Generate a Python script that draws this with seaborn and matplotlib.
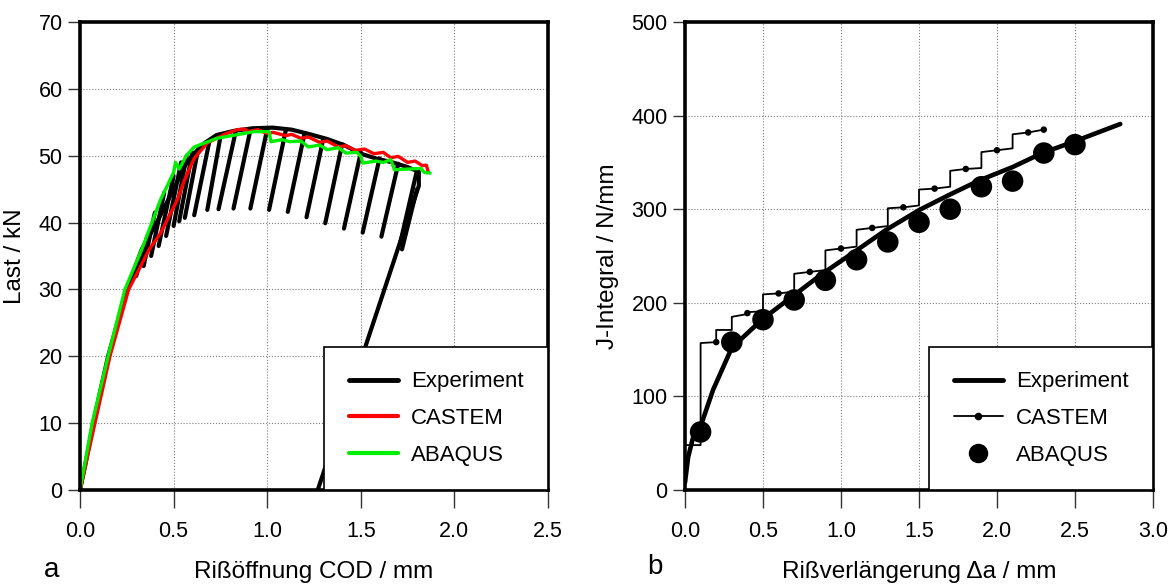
import pandas as pd
import matplotlib
matplotlib.use("Agg")
import matplotlib.pyplot as plt
from matplotlib.lines import Line2D
import seaborn as sns

# ---- panel a: load vs. crack opening ----
exp_cod = [0.0, 0.03, 0.07, 0.15, 0.25, 0.33, 0.41, 0.50, 0.56, 0.60, 0.66, 0.73, 0.82, 0.92,
           1.03, 1.13, 1.23, 1.32, 1.41, 1.50, 1.58, 1.67, 1.75, 1.81, 1.81, 1.27]
exp_load = [0.0, 4.0, 10.0, 20.0, 30.0, 36.0, 40.0, 45.0, 48.5, 50.0, 51.8, 53.1, 53.7, 54.1,
            54.2, 53.9, 53.2, 52.5, 51.6, 50.3, 49.6, 49.0, 48.3, 47.6, 45.5, 0.0]

# partial unloading lines: top point on envelope -> lowest point
unl_top_cod = [0.36, 0.40, 0.45, 0.50, 0.54, 0.57, 0.60, 0.63, 0.69, 0.75, 0.83, 0.91, 1.00,
               1.10, 1.20, 1.30, 1.40, 1.50, 1.60, 1.70, 1.80, 1.80]
unl_top_load = [38.0, 41.5, 44.5, 47.0, 49.0, 50.0, 50.5, 50.8, 52.0, 52.8, 53.4, 53.8, 54.0,
                53.9, 53.4, 52.6, 51.7, 50.5, 49.6, 48.8, 47.8, 45.0]
unl_bot_cod = [0.30, 0.34, 0.38, 0.42, 0.46, 0.50, 0.53, 0.56, 0.61, 0.68, 0.74, 0.82, 0.91,
               1.01, 1.11, 1.21, 1.31, 1.41, 1.51, 1.61, 1.71, 1.72]
unl_bot_load = [32.0, 33.5, 35.0, 36.5, 38.0, 39.5, 40.2, 40.7, 41.1, 41.9, 42.0, 42.1, 42.1,
                41.9, 41.6, 40.8, 39.9, 39.1, 38.5, 37.9, 36.9, 36.0]

castem_cod = [0.0, 0.08, 0.16, 0.26, 0.37, 0.43, 0.52, 0.56, 0.61, 0.68, 0.78, 0.84, 0.88, 0.90,
              0.95, 1.00, 1.03, 1.10, 1.13, 1.18, 1.22, 1.28, 1.32, 1.38, 1.42, 1.47, 1.52, 1.57,
              1.62, 1.66, 1.70, 1.75, 1.79, 1.83, 1.85, 1.86]
castem_load = [0.0, 10.0, 20.0, 30.0, 36.0, 38.4, 43.4, 46.5, 49.6, 51.9, 53.3, 53.9, 54.0, 53.6,
               53.9, 53.3, 53.5, 53.0, 53.2, 52.6, 52.8, 52.0, 52.2, 51.3, 51.5, 50.8, 51.0, 50.3,
               50.5, 49.7, 49.9, 49.0, 49.2, 48.5, 48.6, 47.6]

abaqus_cod = [0.0, 0.065, 0.15, 0.24, 0.33, 0.43, 0.50, 0.51, 0.53, 0.57, 0.61, 0.73, 0.85, 0.93,
              1.01, 1.02, 1.08, 1.12, 1.18, 1.22, 1.28, 1.32, 1.38, 1.42, 1.48, 1.50, 1.51, 1.58,
              1.62, 1.66, 1.68, 1.75, 1.82, 1.84, 1.87]
abaqus_load = [0.0, 10.0, 20.0, 30.0, 36.0, 43.4, 47.5, 49.0, 48.0, 50.1, 51.3, 52.6, 53.2, 53.6,
               53.6, 52.1, 52.4, 52.1, 52.2, 51.3, 51.6, 50.9, 51.2, 50.4, 50.5, 49.9, 48.9, 49.2,
               49.0, 49.4, 47.9, 48.0, 48.1, 47.5, 47.4]

# ---- panel b: J-integral vs. crack extension ----
jexp_da = [0.0, 0.02, 0.05, 0.10, 0.18, 0.30, 0.50, 0.69, 0.88, 1.10, 1.29, 1.50, 1.69, 1.89,
           2.10, 2.29, 2.49, 2.79]
jexp_j = [8, 35, 55, 68, 107, 152, 183, 207, 231, 256, 278, 299, 315, 331, 345, 360, 372, 391]

jcast_da = [0.0, 0.1, 0.1, 0.2, 0.2, 0.3, 0.3, 0.4, 0.4, 0.5, 0.5, 0.6, 0.7, 0.7, 0.8, 0.9, 0.9,
            1.0, 1.1, 1.1, 1.2, 1.3, 1.3, 1.4, 1.5, 1.5, 1.6, 1.7, 1.7, 1.8, 1.9, 1.9, 2.0, 2.1,
            2.1, 2.2, 2.3]
jcast_j = [48, 48, 157, 158, 171, 171, 185, 188, 190, 191, 209, 210, 212, 231, 233, 235, 256,
           258, 260, 278, 280, 282, 301, 302, 304, 321, 322, 324, 341, 343, 344, 361, 363, 365,
           380, 382, 385]
jcast_dot_da = [0.2, 0.4, 0.6, 0.8, 1.0, 1.2, 1.4, 1.6, 1.8, 2.0, 2.2, 2.3]
jcast_dot_j = [158, 189, 210, 233, 258, 280, 302, 322, 343, 363, 382, 385]

jaba_da = [0.1, 0.3, 0.5, 0.7, 0.9, 1.1, 1.3, 1.5, 1.7, 1.9, 2.1, 2.3, 2.5]
jaba_j = [62, 158, 182, 203, 224, 246, 265, 286, 300, 324, 330, 360, 369]

sns.set_theme(style="white")
plt.rcParams["font.family"] = ["Liberation Sans Narrow", "Liberation Sans", "DejaVu Sans"]
plt.rcParams["axes.edgecolor"] = "black"
plt.rcParams["text.color"] = "black"
plt.rcParams["axes.labelcolor"] = "black"

fig = plt.figure(figsize=(11.75, 5.87), dpi=100)
ax1 = fig.add_axes([80 / 1175, 97 / 587, 468 / 1175, 468 / 587])
ax2 = fig.add_axes([685 / 1175, 97 / 587, 468 / 1175, 468 / 587])


def style_axes(ax):
    for sp in ax.spines.values():
        sp.set_linewidth(2.6)
        sp.set_color("black")
    ax.grid(True, linestyle=":", color="#808080", linewidth=0.8)
    ax.tick_params(axis="x", direction="out", length=13, width=1.0, color="#333333",
                   labelcolor="black", labelsize=15.5, pad=9, bottom=True)
    ax.tick_params(axis="y", direction="out", length=8.5, width=1.0, color="#333333",
                   labelcolor="black", labelsize=15.5, pad=4, left=True)


def style_legend(leg):
    leg.get_frame().set_edgecolor("black")
    leg.get_frame().set_linewidth(1.2)
    leg.get_frame().set_alpha(1)


# panel a
seg_rows = []
for i in range(len(unl_top_cod)):
    seg_rows.append({"seg": i, "cod": unl_top_cod[i], "load": unl_top_load[i]})
    seg_rows.append({"seg": i, "cod": unl_bot_cod[i], "load": unl_bot_load[i]})
seg_df = pd.DataFrame(seg_rows)

sns.lineplot(data=seg_df, x="cod", y="load", units="seg", estimator=None, sort=False,
             color="black", linewidth=3.0, ax=ax1)
sns.lineplot(x=exp_cod, y=exp_load, sort=False, estimator=None, color="black",
             linewidth=3.0, ax=ax1)
sns.lineplot(x=castem_cod, y=castem_load, sort=False, estimator=None, color="#ff0000",
             linewidth=2.4, ax=ax1)
sns.lineplot(x=abaqus_cod, y=abaqus_load, sort=False, estimator=None, color="#00ee00",
             linewidth=2.4, ax=ax1)

ax1.set_xlim(0, 2.5)
ax1.set_ylim(0, 70)
ax1.set_xticks([0.0, 0.5, 1.0, 1.5, 2.0, 2.5])
ax1.set_xticklabels(["0.0", "0.5", "1.0", "1.5", "2.0", "2.5"])
ax1.set_yticks(range(0, 71, 10))
style_axes(ax1)
ax1.set_xlabel("Rißöffnung COD / mm", fontsize=17.5, labelpad=14)
ax1.set_ylabel("Last / kN", fontsize=17.5, labelpad=9)

h1 = [Line2D([], [], color="black", lw=3.5),
      Line2D([], [], color="#ff0000", lw=3.0),
      Line2D([], [], color="#00ee00", lw=3.0)]
leg1 = ax1.legend(h1, ["Experiment", "CASTEM", "ABAQUS"], loc="lower right", fontsize=16,
                  frameon=True, fancybox=False, borderaxespad=0, handlelength=2.2,
                  borderpad=1.1, labelspacing=0.7, handletextpad=0.6)
style_legend(leg1)

# panel b
sns.lineplot(x=jexp_da, y=jexp_j, sort=False, estimator=None, color="black",
             linewidth=3.3, ax=ax2)
sns.lineplot(x=jcast_da, y=jcast_j, sort=False, estimator=None, color="black",
             linewidth=1.3, ax=ax2)
sns.scatterplot(x=jcast_dot_da, y=jcast_dot_j, color="black", s=22, edgecolor="none", ax=ax2)
sns.scatterplot(x=jaba_da, y=jaba_j, color="black", s=240, edgecolor="none", ax=ax2,
                zorder=5)

ax2.set_xlim(0, 3.0)
ax2.set_ylim(0, 500)
ax2.set_xticks([0.0, 0.5, 1.0, 1.5, 2.0, 2.5, 3.0])
ax2.set_xticklabels(["0.0", "0.5", "1.0", "1.5", "2.0", "2.5", "3.0"])
ax2.set_yticks(range(0, 501, 100))
style_axes(ax2)
ax2.set_xlabel("Rißverlängerung Δa / mm", fontsize=17.5, labelpad=14)
ax2.set_ylabel("J-Integral / N/mm", fontsize=17.5, labelpad=9)

h2 = [Line2D([], [], color="black", lw=3.5),
      Line2D([], [], color="black", lw=1.3, marker="o", ms=4.5),
      Line2D([], [], color="black", lw=0, marker="o", ms=13)]
leg2 = ax2.legend(h2, ["Experiment", "CASTEM", "ABAQUS"], loc="lower right", fontsize=16,
                  frameon=True, fancybox=False, borderaxespad=0, handlelength=2.2,
                  borderpad=1.1, labelspacing=0.7, handletextpad=0.6)
style_legend(leg2)

fig.text(52 / 1175, 1 - 570 / 587, "a", fontsize=20, ha="center", va="center")
fig.text(655 / 1175, 1 - 567 / 587, "b", fontsize=20, ha="center", va="center")

fig.savefig("out.png", dpi=100)
plt.close(fig)
